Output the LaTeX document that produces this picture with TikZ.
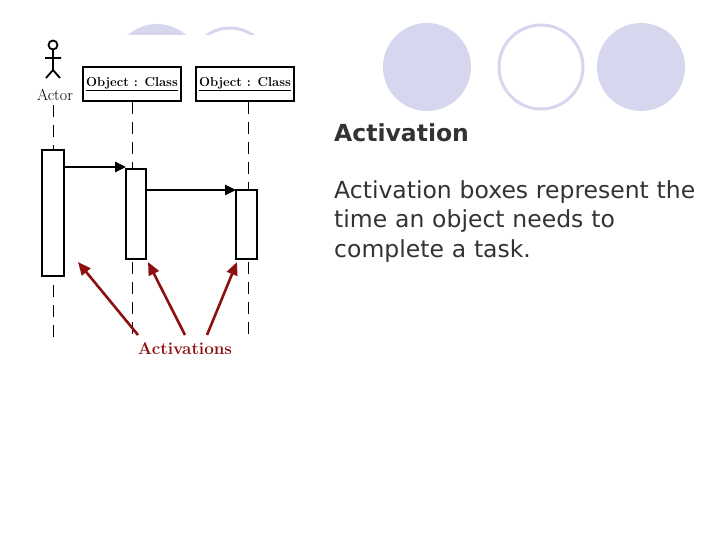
\documentclass[tikz,border=0pt]{standalone}
\usepackage{fontspec}
\newfontfamily\slidefont{DejaVu Sans}
\usetikzlibrary{arrows.meta}
\definecolor{lav}{RGB}{214,214,238}
\definecolor{darkred}{RGB}{140,16,16}
\tikzset{
  deco/.style={fill=lav, draw=none},
  decoring/.style={draw=lav, line width=3pt, fill=white},
  objbox/.style={draw, line width=2.4pt, minimum width=96pt, minimum height=34pt, font=\bfseries\fontsize{13}{15}\selectfont},
  actbox/.style={draw, line width=2.6pt, fill=white},
  lifeline/.style={dash pattern=on 12pt off 8pt, line width=0.9pt},
  msg/.style={-{Triangle[length=11pt,width=10pt]}, line width=2.6pt},
  pointer/.style={-{Triangle[length=13pt,width=11pt]}, line width=2.6pt, darkred}
}
\begin{document}
\begin{tikzpicture}[x=1pt,y=-1pt]
    \useasboundingbox (0,0) rectangle (720,540);
    % Decorative circles
    \fill[deco] (157,68) circle (44);
    \draw[decoring] (230,68) circle (40);
    \fill[deco] (427,67) circle (44);
    \draw[decoring] (541,67) circle (42);
    \fill[deco] (641,67) circle (44);
    \fill[white] (30,35) rectangle (312,362);

    % Actor
    \draw[line width=1.8pt] (53,45) circle (4.5);
    \draw[line width=1.8pt] (53,50) -- (53,70) (45,58) -- (61,58)
        (46,78) -- (53,70) -- (60,78);
    \node[font=\fontsize{16}{18}\selectfont] (actor) at (55,95) {Actor};

    % Objects
    \node[objbox] (obj1) at (132,84) {\underline{Object : Class}};
    \node[objbox] (obj2) at (245,84) {\underline{Object : Class}};

    % Lifelines
    \draw[lifeline] (53,105) -- (53,338);
    \draw[lifeline] (obj1.south -| 132,0) -- (132,338);
    \draw[lifeline] (obj2.south -| 248,0) -- (248,338);

    % Activation boxes
    \draw[actbox] (42,150) rectangle (64,276);
    \draw[actbox] (126,169) rectangle (146,259);
    \draw[actbox] (236,190) rectangle (257,259);
    \coordinate (a1) at (65,167);
    \coordinate (a2) at (126,167);
    \coordinate (a3) at (147,190);
    \coordinate (a4) at (236,190);
    \draw[msg] (a1) -- (a2);
    \draw[msg] (a3) -- (a4);

    % Pointers to activations
    \node[font=\bfseries\fontsize{17}{20}\selectfont, text=darkred] (lbl) at (185,349) {Activations};
    \draw[pointer] (138,335) -- (78,262);
    \draw[pointer] (185,335) -- (148,262);
    \draw[pointer] (207,335) -- (237,262);

    % Slide text
    \node[anchor=west, inner sep=0pt, font=\slidefont\bfseries\fontsize{23.5}{28}\selectfont, text=black!80] (title) at (334,133) {Activation};
    \node[anchor=north west, inner sep=0pt, align=left, text width=390pt,
          font=\slidefont\fontsize{23.5}{29.5}\selectfont, text=black!80] (body) at (334,180)
          {Activation boxes represent the\\ time an object needs to\\ complete a task.};
\end{tikzpicture}
\end{document}
